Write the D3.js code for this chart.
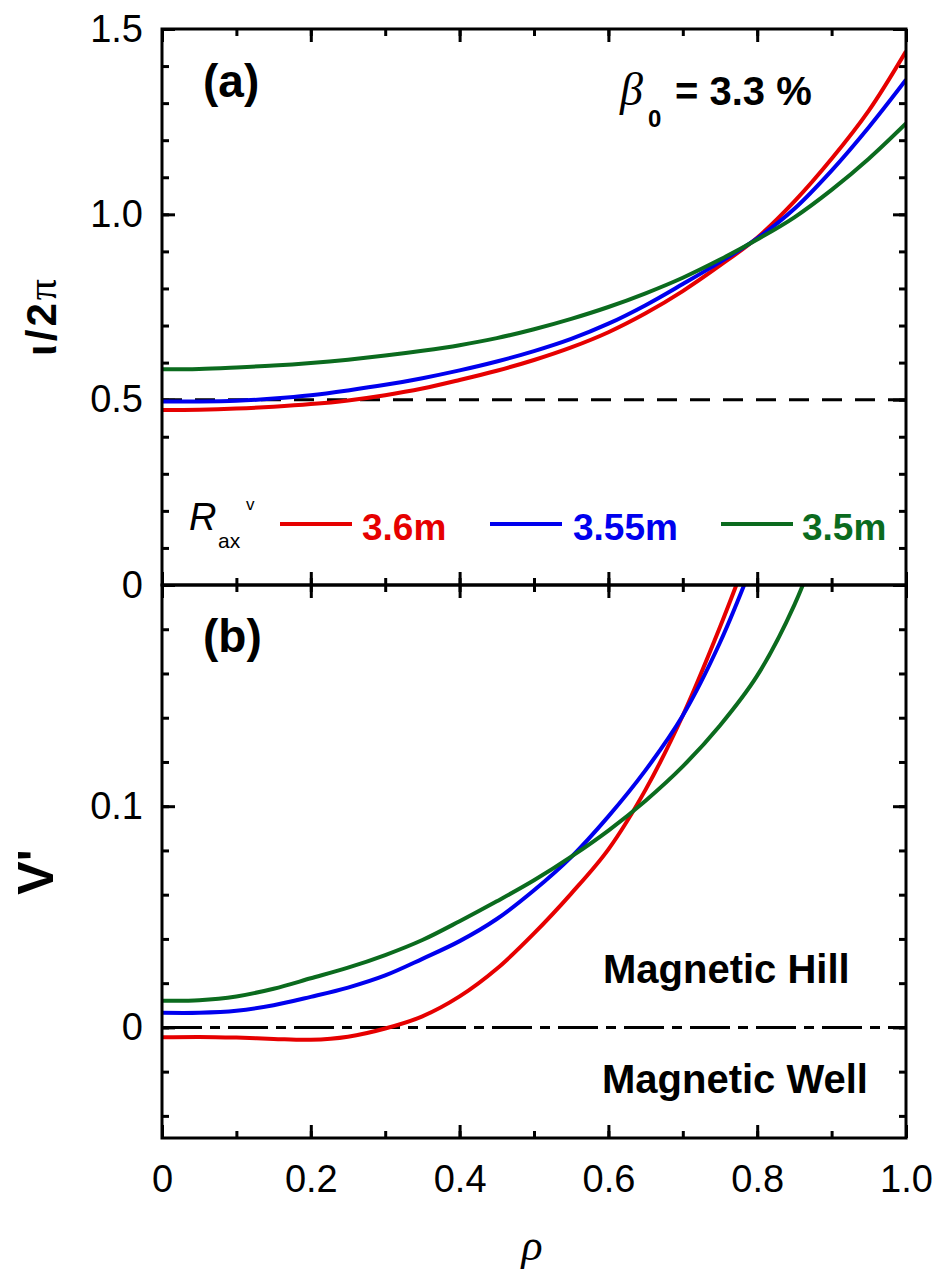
<!DOCTYPE html>
<html>
<head>
<meta charset="utf-8">
<script src="https://cdn.jsdelivr.net/npm/d3@7"></script>
<style>
  html, body { margin: 0; padding: 0; background: #fff; }
  svg { display: block; }
  text { font-family: "Liberation Sans", Arial, sans-serif; fill: #000; }
</style>
</head>
<body>
<svg id="chart" width="939" height="1271"></svg>
<script>
// ---- data -------------------------------------------------------------
const seriesNames = ["3.6m", "3.55m", "3.5m"];
const seriesColors = ["#e60000", "#0000ee", "#0b6b1e"];

// normalized minor radius for the rotational transform profiles
const rhoIota = [0, 0.05, 0.1, 0.15, 0.2, 0.25, 0.3, 0.35, 0.4, 0.45, 0.5,
                 0.55, 0.6, 0.65, 0.7, 0.75, 0.8, 0.85, 0.9, 0.95, 1.0];
const iota36  = [0.472, 0.473, 0.476, 0.481, 0.488, 0.498, 0.512, 0.530, 0.553, 0.578, 0.607,
                 0.641, 0.682, 0.733, 0.793, 0.862, 0.937, 1.035, 1.150, 1.280, 1.440];
const iota355 = [0.495, 0.495, 0.497, 0.503, 0.512, 0.525, 0.540, 0.558, 0.579, 0.603, 0.631,
                 0.664, 0.705, 0.755, 0.812, 0.871, 0.935, 1.015, 1.118, 1.235, 1.363];
const iota35  = [0.582, 0.583, 0.587, 0.592, 0.599, 0.608, 0.619, 0.632, 0.647, 0.666, 0.690,
                 0.718, 0.750, 0.787, 0.829, 0.878, 0.932, 0.992, 1.066, 1.150, 1.245];

// V' profiles (null where the curve has left the plotted range)
const rhoV = [0, 0.05, 0.1, 0.15, 0.2, 0.25, 0.3, 0.35, 0.4, 0.45, 0.5,
              0.55, 0.6, 0.65, 0.7, 0.75, 0.8, 0.85, 0.9];
const vp36  = [-0.0045, -0.0043, -0.0046, -0.0052, -0.0056, -0.0042, -0.0005, 0.0050, 0.0140, 0.0265, 0.0425,
               0.0605, 0.0805, 0.1075, 0.1410, 0.1810, 0.2250, null, null];
const vp355 = [0.0066, 0.0066, 0.0075, 0.0100, 0.0138, 0.0180, 0.0235, 0.0310, 0.0390, 0.0490, 0.0620,
               0.0770, 0.0954, 0.1163, 0.1410, 0.1740, 0.2150, null, null];
const vp35  = [0.0121, 0.0123, 0.0140, 0.0175, 0.0222, 0.0270, 0.0327, 0.0395, 0.0480, 0.0570, 0.0665,
               0.0772, 0.0890, 0.1025, 0.1180, 0.1365, 0.1590, 0.1910, 0.2350];

const xTicksMajor = [0, 0.2, 0.4, 0.6, 0.8, 1.0];
const xTickLabels = ["0", "0.2", "0.4", "0.6", "0.8", "1.0"];
const yTopMajor = [0, 0.5, 1.0, 1.5];
const yTopLabels = ["0", "0.5", "1.0", "1.5"];
const yBotMajor = [0, 0.1];
const yBotLabels = ["0", "0.1"];

// ---- layout -----------------------------------------------------------
const L = 162, R = 906, T = 29, MID = 585, B = 1138;
const svg = d3.select("#chart");
svg.append("rect").attr("width", 939).attr("height", 1271).attr("fill", "#fff");

const x = d3.scaleLinear().domain([0, 1]).range([L, R]);
const yTop = d3.scaleLinear().domain([0, 1.5]).range([MID, T]);
const yBot = d3.scaleLinear().domain([-0.05, 0.2]).range([B, MID]);

const defs = svg.append("defs");
defs.append("clipPath").attr("id", "clipTop")
  .append("rect").attr("x", L).attr("y", T).attr("width", R - L).attr("height", MID - T);
defs.append("clipPath").attr("id", "clipBot")
  .append("rect").attr("x", L).attr("y", MID).attr("width", R - L).attr("height", B - MID);

const MAJ = 13, MIN = 7, PAD = 19, TICKFONT = 38;
const minorX = d3.range(0, 1.0001, 0.1).map(v => +v.toFixed(2));

function tickAxis(axisFn, scale, values, size) {
  return axisFn(scale).tickValues(values).tickSizeInner(size).tickSizeOuter(0).tickFormat("");
}
function drawAxis(g) {
  g.select(".domain").remove();
  g.selectAll(".tick line").attr("stroke", "#000").attr("stroke-width", 3);
  g.selectAll(".tick text").attr("font-size", TICKFONT).attr("fill", "#000")
    .attr("font-family", "Liberation Sans, Arial, sans-serif");
}

// x ticks pointing into each panel: top of (a), shared middle line (both ways), bottom of (b)
[[T, d3.axisTop], [MID, d3.axisBottom], [MID, d3.axisTop], [B, d3.axisBottom]].forEach(([yy, fn]) => {
  svg.append("g").attr("transform", `translate(0,${yy})`)
    .call(tickAxis(fn, x, minorX, -MIN)).call(drawAxis);
  svg.append("g").attr("transform", `translate(0,${yy})`)
    .call(tickAxis(fn, x, xTicksMajor, -MAJ)).call(drawAxis);
});
svg.append("g").attr("transform", `translate(0,${B})`)
  .call(d3.axisBottom(x).tickValues(xTicksMajor).tickSize(0).tickPadding(27)
        .tickFormat((d, i) => xTickLabels[i]))
  .call(drawAxis);

// y ticks, panel (a)
const minorTop = d3.range(0, 1.5001, 0.1).map(v => +v.toFixed(2));
[[L, d3.axisLeft], [R, d3.axisRight]].forEach(([xx, fn]) => {
  svg.append("g").attr("transform", `translate(${xx},0)`)
    .call(tickAxis(fn, yTop, minorTop, -MIN)).call(drawAxis);
  svg.append("g").attr("transform", `translate(${xx},0)`)
    .call(tickAxis(fn, yTop, yTopMajor, -MAJ)).call(drawAxis);
});
svg.append("g").attr("transform", `translate(${L},0)`)
  .call(d3.axisLeft(yTop).tickValues(yTopMajor).tickSize(0).tickPadding(PAD)
        .tickFormat((d, i) => yTopLabels[i]))
  .call(drawAxis);

// y ticks, panel (b)
const minorBot = d3.range(-0.04, 0.2001, 0.02).map(v => +v.toFixed(3));
[[L, d3.axisLeft], [R, d3.axisRight]].forEach(([xx, fn]) => {
  svg.append("g").attr("transform", `translate(${xx},0)`)
    .call(tickAxis(fn, yBot, minorBot, -MIN)).call(drawAxis);
  svg.append("g").attr("transform", `translate(${xx},0)`)
    .call(tickAxis(fn, yBot, yBotMajor, -MAJ)).call(drawAxis);
});
svg.append("g").attr("transform", `translate(${L},0)`)
  .call(d3.axisLeft(yBot).tickValues(yBotMajor).tickSize(0).tickPadding(PAD)
        .tickFormat((d, i) => yBotLabels[i]))
  .call(drawAxis);

// reference lines: iota/2pi = 0.5 and V' = 0
svg.append("line").attr("x1", L).attr("x2", R).attr("y1", yTop(0.5)).attr("y2", yTop(0.5))
  .attr("stroke", "#000").attr("stroke-width", 3).attr("stroke-dasharray", "20,13");
svg.append("line").attr("x1", L).attr("x2", R).attr("y1", yBot(0)).attr("y2", yBot(0))
  .attr("stroke", "#000").attr("stroke-width", 3).attr("stroke-dasharray", "40,8,10,8");

// curves
const iotaSeries = [iota36, iota355, iota35];
const vpSeries = [vp36, vp355, vp35];
const lineTop = d3.line().x(d => x(d[0])).y(d => yTop(d[1])).curve(d3.curveCatmullRom.alpha(0.5));
const lineBot = d3.line().defined(d => d[1] !== null)
  .x(d => x(d[0])).y(d => yBot(d[1])).curve(d3.curveCatmullRom.alpha(0.5));

const gTop = svg.append("g").attr("clip-path", "url(#clipTop)");
iotaSeries.forEach((vals, i) => {
  gTop.append("path").datum(rhoIota.map((r, k) => [r, vals[k]]))
    .attr("d", lineTop).attr("fill", "none")
    .attr("stroke", seriesColors[i]).attr("stroke-width", 4);
});
const gBot = svg.append("g").attr("clip-path", "url(#clipBot)");
vpSeries.forEach((vals, i) => {
  gBot.append("path").datum(rhoV.map((r, k) => [r, vals[k]]))
    .attr("d", lineBot).attr("fill", "none")
    .attr("stroke", seriesColors[i]).attr("stroke-width", 4);
});

// frames
svg.append("rect").attr("x", L).attr("y", T).attr("width", R - L).attr("height", MID - T)
  .attr("fill", "none").attr("stroke", "#000").attr("stroke-width", 3);
svg.append("rect").attr("x", L).attr("y", MID).attr("width", R - L).attr("height", B - MID)
  .attr("fill", "none").attr("stroke", "#000").attr("stroke-width", 3);

// panel tags and annotations
svg.append("text").attr("x", 203).attr("y", 97).attr("font-size", 46).attr("font-weight", "bold").text("(a)");
svg.append("text").attr("x", 203).attr("y", 652).attr("font-size", 46).attr("font-weight", "bold").text("(b)");

svg.append("text").attr("x", 620).attr("y", 105).attr("font-size", 46)
  .attr("font-style", "italic").style("font-family", "Liberation Serif, serif").text("β");
svg.append("text").attr("x", 648).attr("y", 127).attr("font-size", 24).attr("font-weight", "bold").text("0");
svg.append("text").attr("x", 675).attr("y", 105).attr("font-size", 40).attr("font-weight", "bold")
  .attr("xml:space", "preserve").text("= 3.3 %");

svg.append("text").attr("x", 603).attr("y", 983).attr("font-size", 40).attr("font-weight", "bold").text("Magnetic Hill");
svg.append("text").attr("x", 602).attr("y", 1093).attr("font-size", 40).attr("font-weight", "bold").text("Magnetic Well");

// legend
svg.append("text").attr("x", 189).attr("y", 530).attr("font-size", 38).attr("font-style", "italic").text("R");
svg.append("text").attr("x", 218).attr("y", 548).attr("font-size", 21).text("ax");
svg.append("text").attr("x", 246).attr("y", 510).attr("font-size", 17).text("v");
const legendLineX = [280, 490, 721];
const legendTextX = [362, 573, 802];
seriesNames.forEach((name, i) => {
  svg.append("line").attr("x1", legendLineX[i]).attr("x2", legendLineX[i] + 72)
    .attr("y1", 524).attr("y2", 524)
    .attr("stroke", seriesColors[i]).attr("stroke-width", 4);
  svg.append("text").attr("x", legendTextX[i]).attr("y", 540).attr("font-size", 37)
    .attr("font-weight", "bold").style("fill", seriesColors[i]).text(name);
});

// axis titles
svg.append("text").attr("transform", "translate(56,316) rotate(-90)")
  .attr("text-anchor", "middle").attr("font-size", 42).attr("font-weight", "bold")
  .attr("letter-spacing", 3)
  .html('ι/2<tspan style="font-family: Liberation Serif, serif; font-weight: normal">π</tspan>');
svg.append("text").attr("transform", "translate(53,872) rotate(-90)")
  .attr("text-anchor", "middle").attr("font-size", 50).attr("font-weight", "bold").text("V'");
svg.append("text").attr("x", 532).attr("y", 1260).attr("text-anchor", "middle")
  .attr("font-size", 44).attr("font-style", "italic").style("font-family", "Liberation Serif, serif").text("ρ");
</script>
</body>
</html>
